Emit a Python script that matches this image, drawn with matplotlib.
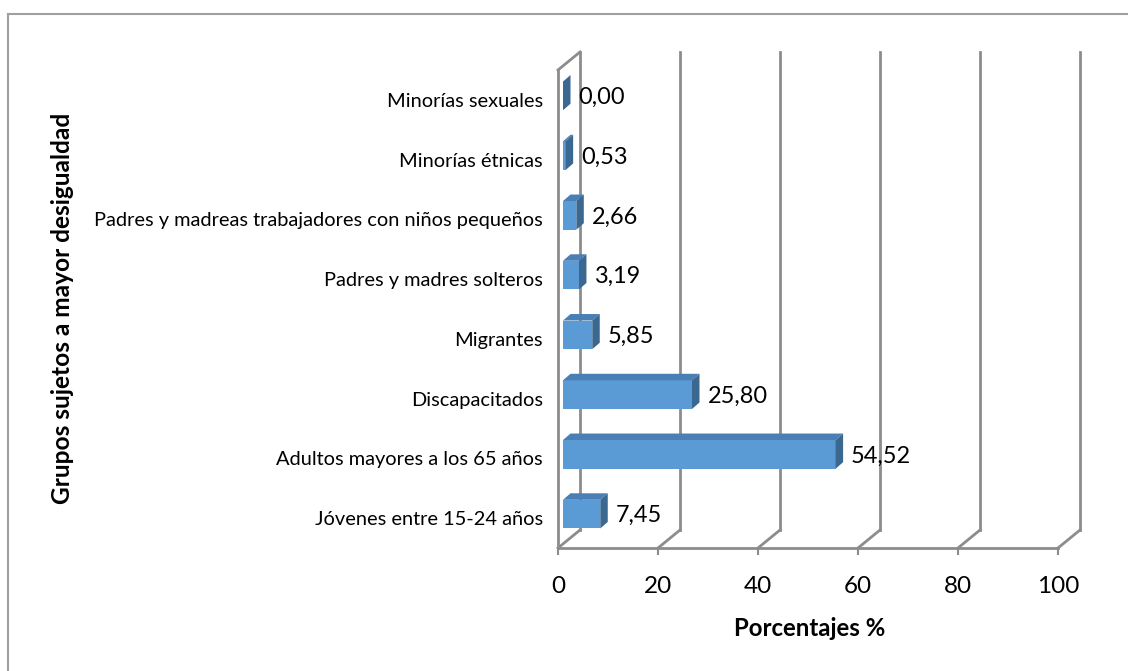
import matplotlib
matplotlib.use("Agg")
import matplotlib.pyplot as plt
from matplotlib.patches import Polygon
from matplotlib.lines import Line2D

categories = [
    "Jóvenes entre 15-24 años",
    "Adultos mayores a los 65 años",
    "Discapacitados",
    "Migrantes",
    "Padres y madres solteros",
    "Padres y madreas trabajadores con niños pequeños",
    "Minorías étnicas",
    "Minorías sexuales",
]
values = [7.45, 54.52, 25.80, 5.85, 3.19, 2.66, 0.53, 0.00]
xticks = [0, 20, 40, 60, 80, 100]

plt.rcParams["font.family"] = ["Lato", "DejaVu Sans"]

W, H = 1128, 671
fig = plt.figure(figsize=(W / 100, H / 100), dpi=100)

# front plane of the 3D box, in pixels
x0, x1 = 558, 1058
ytop, ybot = 70, 548
ax = fig.add_axes([x0 / W, (H - ybot) / H, (x1 - x0) / W, (ybot - ytop) / H])
ax.set_xlim(0, 100)
ax.set_ylim(-0.5, len(categories) - 0.5)

# pixel -> data unit helpers
ux = 100 / (x1 - x0)
uy = len(categories) / (ybot - ytop)

grid = "#8c8c8c"
# back wall depth offset
bdx, bdy = 22 * ux, 18 * uy
ylo, yhi = -0.5, len(categories) - 0.5
for t in xticks:
    ax.add_line(Line2D([t + bdx, t + bdx], [ylo + bdy, yhi + bdy], color=grid, lw=2, clip_on=False))
    ax.add_line(Line2D([t, t + bdx], [ylo, ylo + bdy], color=grid, lw=2, clip_on=False))
ax.add_line(Line2D([0, bdx], [yhi, yhi + bdy], color=grid, lw=2, clip_on=False))

# bars: front face shifted to mid depth, plus top and side faces
sx, sy = 5 * ux, 4 * uy
ddx, ddy = 7.5 * ux, 6.5 * uy
h = 0.48
front = "#5b9bd5"
topc = "#4a7fb5"
side = "#3b6891"
for i, v in enumerate(values):
    l, r = sx, sx + v
    b, t = i + sy - h / 2, i + sy + h / 2
    ax.barh(i + sy, v, left=sx, height=h, color=front, edgecolor="none", zorder=3)
    ax.add_patch(Polygon([(l, t), (r, t), (r + ddx, t + ddy), (l + ddx, t + ddy)],
                         closed=True, fc=topc, ec="none", zorder=3))
    ax.add_patch(Polygon([(r, b), (r + ddx, b + ddy), (r + ddx, t + ddy), (r, t)],
                         closed=True, fc=side, ec="none", zorder=3))
    ax.text(r + ddx + 8 * ux, i + sy - 1.5 * uy, f"{v:.2f}".replace(".", ","),
            va="center", ha="left", fontsize=16.9, zorder=4)

for s in ["top", "right"]:
    ax.spines[s].set_visible(False)
ax.spines["left"].set_color(grid)
ax.spines["left"].set_linewidth(2)
ax.spines["bottom"].set_color(grid)
ax.spines["bottom"].set_linewidth(2)

ax.set_xticks(xticks)
ax.set_xticklabels([str(t) for t in xticks], fontsize=17.5)
ax.tick_params(axis="x", length=5, width=1.5, color=grid, pad=15)
ax.set_yticks(range(len(categories)))
ax.set_yticklabels(categories, fontsize=14.4)
ax.tick_params(axis="y", length=0, pad=11)

fig.text(810 / W, 1 - 628 / H, "Porcentajes %", ha="center", va="center",
         fontsize=17.3, fontweight="bold")
fig.text(63 / W, 1 - 308 / H, "Grupos sujetos a mayor desigualdad", ha="center",
         va="center", rotation=90, fontsize=17.6, fontweight="bold")

# chart area border (top and left visible)
bc = "#a0a0a0"
fig.add_artist(Line2D([8 / W, 1], [1 - 14 / H, 1 - 14 / H], color=bc, lw=1.5, transform=fig.transFigure))
fig.add_artist(Line2D([8 / W, 8 / W], [0, 1 - 14 / H], color=bc, lw=1.5, transform=fig.transFigure))

fig.savefig("out.png", dpi=100)
